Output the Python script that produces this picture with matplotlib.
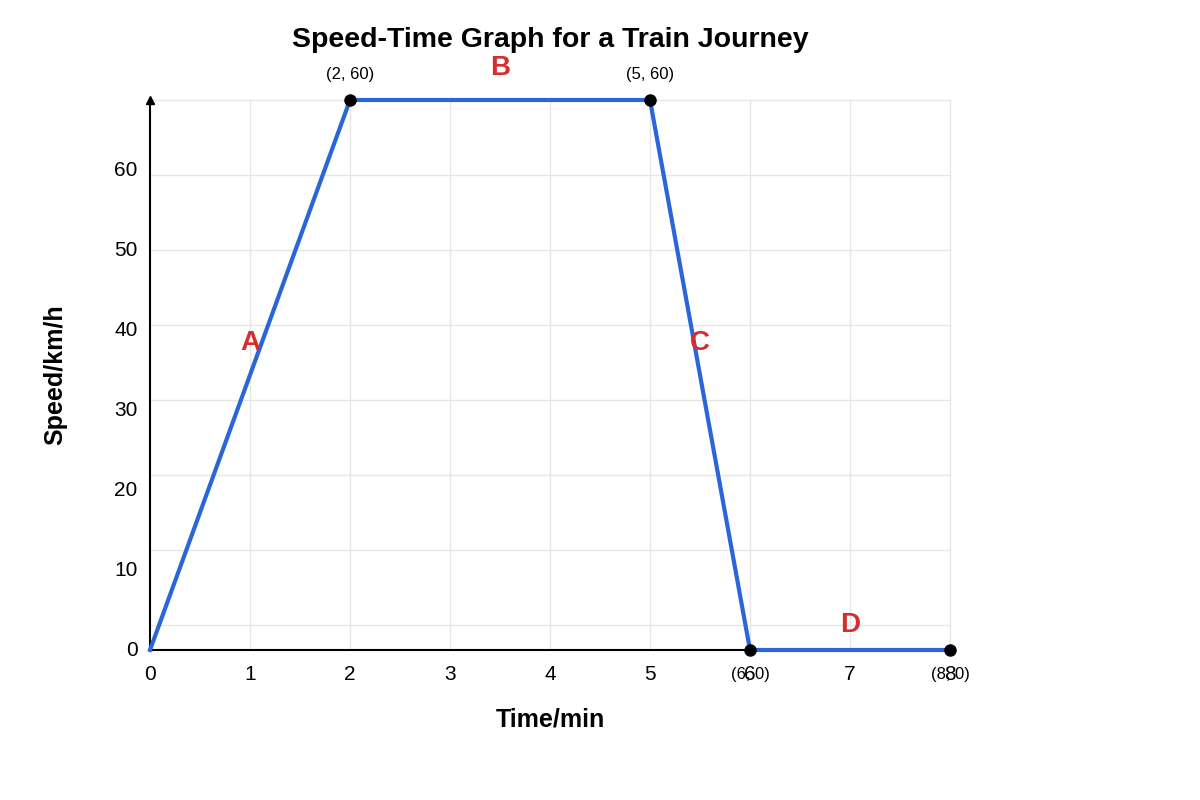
import matplotlib
matplotlib.use("Agg")
import matplotlib.pyplot as plt

times = [0, 2, 5, 6, 8]
speeds = [0, 60, 60, 0, 0]
point_labels = ["(2, 60)", "(5, 60)", "(6, 0)", "(8, 0)"]
segments = ["A", "B", "C", "D"]
seg_pos = [(1, 33.5), (3.5, 63.5), (5.5, 33.5), (7, 2.7)]
x_ticks = list(range(9))
y_tick_labels = [0, 10, 20, 30, 40, 50, 60]

plt.rcParams['font.family'] = ['Liberation Sans', 'DejaVu Sans']
fig = plt.figure(figsize=(12, 8), dpi=100)
ax = fig.add_axes([0.125, 0.1875, 800/1200, 0.6875])
ax.set_xlim(0, 8)
ax.set_ylim(0, 60)
u = 60/550  # data units per pixel
for gx in range(1, 9):
    ax.plot([gx, gx], [0, 60], color='#e6e6e6', lw=1, zorder=0, clip_on=False)
for k in range(8):
    gy = (25 + 75*k)*u
    ax.plot([0, 8], [gy, gy], color='#e6e6e6', lw=1, zorder=0, clip_on=False)
for s in ax.spines.values():
    s.set_visible(False)
ax.plot([0, 0], [0, 60], color='black', lw=1.5, clip_on=False)
ax.plot([0, 8], [0, 0], color='black', lw=1.5, clip_on=False)
ax.plot(0, 60, marker='^', color='black', ms=6, clip_on=False)
ax.plot(8, 0, marker='>', color='black', ms=6, clip_on=False)

ax.plot(times, speeds, color='#2b66d9', lw=3, zorder=3, clip_on=False)
ax.plot(times[1:], speeds[1:], 'o', color='black', ms=8, zorder=4, clip_on=False)
offs = [(0, 25*u), (0, 25*u), (0, -25*u), (0, -25*u)]
for (t, s), lab, o in zip(list(zip(times, speeds))[1:], point_labels, offs):
    ax.text(t+o[0], s+o[1], lab, ha='center', va='center', fontsize=12, clip_on=False)
for lab, (x, y) in zip(segments, seg_pos):
    ax.text(x, y, lab, color='#d32f2f', fontsize=20, fontweight='bold', ha='center', va='center')

ax.set_xticks(x_ticks)
ax.set_xticklabels([str(v) for v in x_ticks], fontsize=15)
ax.tick_params(axis='x', length=0, pad=11)
ax.set_yticks([(2 + 80*i)*u for i in range(len(y_tick_labels))])
ax.set_yticklabels([str(v) for v in y_tick_labels], fontsize=15)
ax.tick_params(axis='y', length=0, pad=9)
ax.set_xlabel("Time/min", fontsize=18, fontweight='bold', labelpad=17)
ax.set_ylabel("Speed/km/h", fontsize=18, fontweight='bold', labelpad=34)
fig.text(550/1200, 1-40/800, "Speed-Time Graph for a Train Journey", fontsize=20.5,
         fontweight='bold', ha='center', va='center')
fig.savefig("out.png", dpi=100)
